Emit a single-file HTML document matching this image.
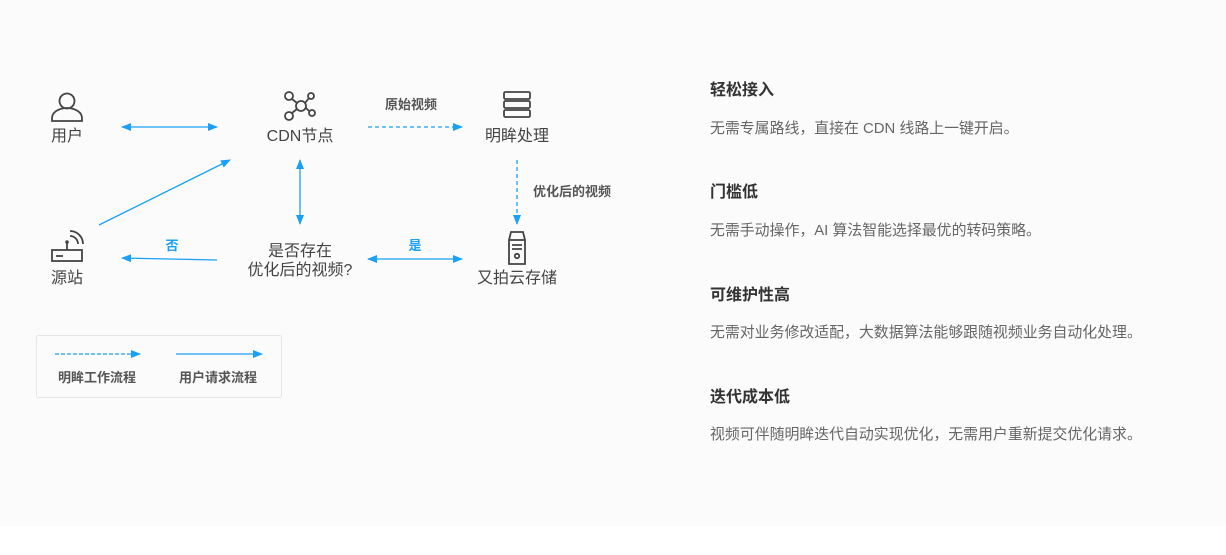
<!DOCTYPE html>
<html><head><meta charset="utf-8"><style>
html,body{margin:0;padding:0;background:#fff;}
body{width:1226px;height:555px;position:relative;overflow:hidden;font-family:"Liberation Sans","Noto Sans CJK SC",sans-serif;}
.bg{position:absolute;left:0;top:0;width:1226px;height:526px;background:#fbfbfb;}
.h{position:absolute;left:710px;font-size:16px;font-weight:bold;color:#333;}
.d{position:absolute;left:710px;font-size:14.9px;color:#666;}
svg{position:absolute;left:0;top:0;}
</style></head><body>
<div class="bg"></div>
<svg width="700" height="555" viewBox="0 0 700 555" font-family="Liberation Sans, Noto Sans CJK SC, sans-serif">
<defs>
<marker id="a" markerWidth="10" markerHeight="8" refX="9" refY="4" orient="auto-start-reverse" markerUnits="userSpaceOnUse"><path d="M0,0 L10,4 L0,8z" fill="#1aa0f5"/></marker>
</defs>
<g stroke="#1aa0f5" stroke-width="1.3" fill="none">
<line x1="122" y1="127" x2="217" y2="127" marker-start="url(#a)" marker-end="url(#a)"/>
<line x1="368" y1="127" x2="462" y2="127" stroke-dasharray="4,3" marker-end="url(#a)"/>
<line x1="517" y1="160" x2="517" y2="224" stroke-dasharray="4,3" marker-end="url(#a)"/>
<line x1="300" y1="160" x2="300" y2="224" marker-start="url(#a)" marker-end="url(#a)"/>
<line x1="368" y1="259" x2="462" y2="259" marker-start="url(#a)" marker-end="url(#a)"/>
<line x1="217" y1="260" x2="122" y2="258" marker-end="url(#a)"/>
<line x1="99" y1="225" x2="230" y2="160" marker-end="url(#a)"/>
<line x1="55" y1="354" x2="140" y2="354" stroke-dasharray="4,2" marker-end="url(#a)"/>
<line x1="176" y1="354" x2="262" y2="354" marker-end="url(#a)"/>
</g>
<rect x="36.5" y="335.5" width="245" height="62" rx="2" fill="none" stroke="#e6e6e6"/>
<g fill="#555" font-size="13" font-weight="bold" text-anchor="middle">
<text x="97" y="382">明眸工作流程</text>
<text x="218" y="382">用户请求流程</text>
<text x="411" y="109">原始视频</text>
<text x="572" y="196">优化后的视频</text>
</g>
<g fill="#1aa0f5" font-size="13" font-weight="bold" text-anchor="middle">
<text x="172" y="250">否</text><text x="415" y="250">是</text>
</g>
<g fill="#444" font-size="16" text-anchor="middle">
<text x="67" y="141">用户</text>
<text x="300" y="141">CDN节点</text>
<text x="517" y="141">明眸处理</text>
<text x="67" y="283">源站</text>
<text x="517" y="283">又拍云存储</text>
<text x="300" y="256">是否存在</text>
<text x="300" y="275">优化后的视频?</text>
</g>
<g stroke="#444" stroke-width="1.8" fill="none">
<circle cx="67" cy="101" r="7.5"/>
<path d="M52,121 v-3 a15,10 0 0 1 30,0 v3 z"/>
<circle cx="301" cy="106" r="5"/>
<circle cx="289" cy="96" r="4"/><circle cx="311" cy="96" r="3"/>
<circle cx="289" cy="116" r="4"/><circle cx="312" cy="113" r="3"/>
<path d="M292,99 L297,103 M309,98 L305,103 M292,113 L297,109 M306,108 L309,111"/>
<rect x="504" y="92" width="26" height="7" rx="1.5"/>
<rect x="504" y="101" width="26" height="7" rx="1.5"/>
<rect x="504" y="110" width="26" height="7" rx="1.5"/>
<path d="M509,240 l2,-8 h12 l2,8 v24 h-16 z"/>
<path d="M509,240 h16"/>
<path d="M512,245 h10 M512,249 h10"/>
<circle cx="517" cy="256" r="2.2"/>
<rect x="52" y="250" width="30" height="11"/>
<path d="M67,250 v-8"/>
<path d="M70,236 a8,8 0 0 1 8,8 M70,231 a13,13 0 0 1 13,13"/>
</g>
<circle cx="67" cy="242" r="1.8" fill="#444"/>
<path d="M56,256 h7" stroke="#444" stroke-width="1.8"/>
</svg>
<div class="h" style="top:76px">轻松接入</div>
<div class="d" style="top:117px">无需专属路线，直接在 CDN 线路上一键开启。</div>
<div class="h" style="top:178px">门槛低</div>
<div class="d" style="top:219px">无需手动操作，AI 算法智能选择最优的转码策略。</div>
<div class="h" style="top:281px">可维护性高</div>
<div class="d" style="top:321px">无需对业务修改适配，大数据算法能够跟随视频业务自动化处理。</div>
<div class="h" style="top:383px">迭代成本低</div>
<div class="d" style="top:423px">视频可伴随明眸迭代自动实现优化，无需用户重新提交优化请求。</div>
</body></html>
